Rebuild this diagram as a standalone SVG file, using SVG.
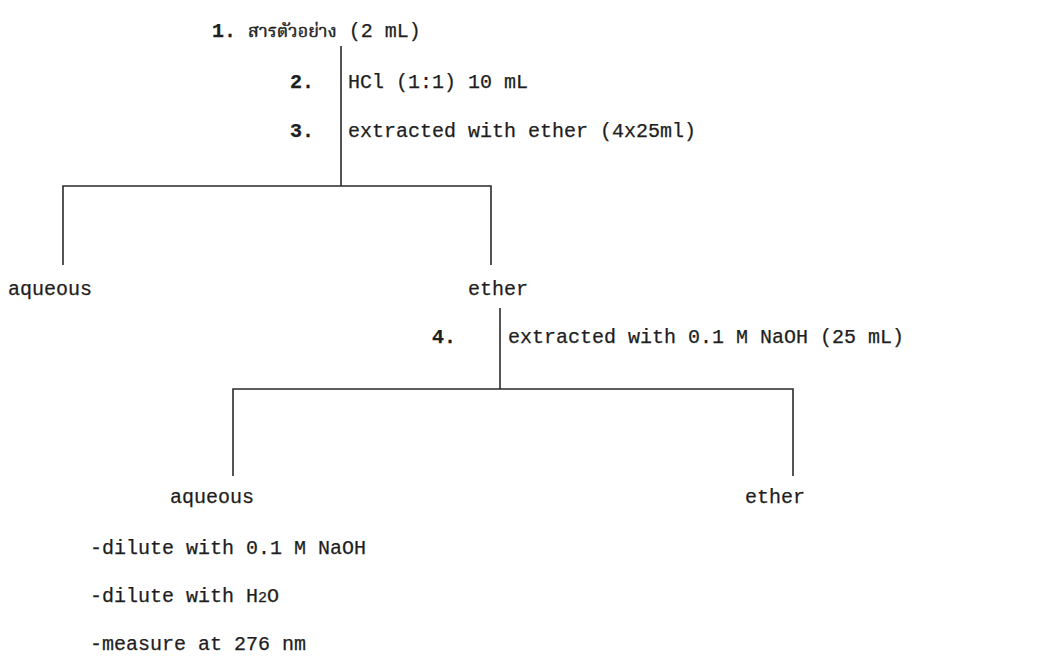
<svg xmlns="http://www.w3.org/2000/svg" width="1047" height="658" viewBox="0 0 1047 658">
  <style>
    .t { font-family: "Liberation Mono", "DejaVu Sans Mono", monospace; font-size: 20px; fill: #1e1e1e; stroke: #1e1e1e; stroke-width: 0.25; }
    .n { font-weight: bold; }
    .r { font-weight: normal; }
    .th { font-family: "Noto Serif Thai", "Noto Sans Thai", "Loma", "Garuda", "Noto Sans", sans-serif; font-size: 18px; font-weight: normal; stroke-width: 0.45; }
    .ln { stroke: #2a2a2a; stroke-width: 1.6; fill: none; }
  </style>
  <rect width="1047" height="658" fill="#ffffff"/>

  <!-- connectors: vertical stems and split brackets -->
  <g id="connectors">
    <path class="ln" d="M341 46 V186"/>
    <path class="ln" d="M63 265 V186 H491 V265"/>
    <path class="ln" d="M500 308 V389"/>
    <path class="ln" d="M233 476 V389 H793 V476"/>
  </g>

  <g id="sample">
    <text class="t n" x="212" y="37">1. <tspan class="th">สารตัวอย่าง</tspan><tspan class="r"> (2 mL)</tspan></text>
  </g>

  <g id="step2">
    <text class="t n" x="290" y="88">2.</text>
    <text class="t" x="348" y="88">HCl (1:1) 10 mL</text>
  </g>

  <g id="step3">
    <text class="t n" x="290" y="137">3.</text>
    <text class="t" x="348" y="137">extracted with ether (4x25ml)</text>
  </g>

  <g id="aqueous1">
    <text class="t" x="8" y="295">aqueous</text>
  </g>

  <g id="ether1">
    <text class="t" x="468" y="295">ether</text>
  </g>

  <g id="step4">
    <text class="t n" x="432" y="343">4.</text>
    <text class="t" x="508" y="343">extracted with 0.1 M NaOH (25 mL)</text>
  </g>

  <g id="aqueous2">
    <text class="t" x="170" y="503">aqueous</text>
  </g>

  <g id="ether2">
    <text class="t" x="745" y="503">ether</text>
  </g>

  <g id="treatment">
    <text class="t" x="90" y="554">-dilute with 0.1 M NaOH</text>
    <text class="t" x="90" y="602">-dilute with H<tspan font-size="15">2</tspan>O</text>
    <text class="t" x="90" y="650">-measure at 276 nm</text>
  </g>
</svg>
